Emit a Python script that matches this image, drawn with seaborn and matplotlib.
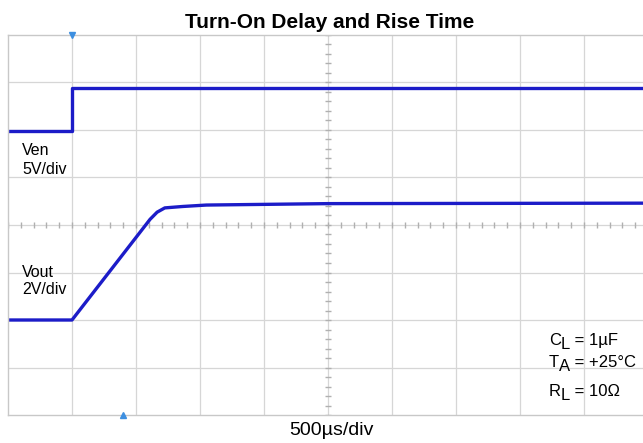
import numpy as np
import seaborn as sns
import matplotlib
matplotlib.use("Agg")
import matplotlib.pyplot as plt

# Scope capture values, in divisions (x: 500us/div, y: screen divisions from bottom)
ven_t = [0.0, 1.0, 1.0, 10.0]
ven_v = [5.98, 5.98, 6.88, 6.88]

vout_t = [0.0, 1.0, 2.22, 2.33, 2.45, 2.73, 3.1, 5.0, 10.0]
vout_v = [2.0, 2.0, 4.12, 4.27, 4.36, 4.39, 4.42, 4.45, 4.46]

trig_t = [1.0, 1.8]   # trigger / cursor markers (top, bottom)

title = "Turn-On Delay and Rise Time"
xlabel = "500µs/div"
ven_label = ["Ven", "5V/div"]
vout_label = ["Vout", "2V/div"]
conditions = [("C", "L", " = 1µF"), ("T", "A", " = +25°C"), ("R", "L", " = 10Ω")]

sns.set_style("white")
plt.rcParams["font.family"] = ["Liberation Sans", "DejaVu Sans"]
plt.rcParams["text.color"] = "black"

fig = plt.figure(figsize=(6.43, 4.43), dpi=100)
ax = fig.add_axes([8 / 643, 28 / 443, 640 / 643, 380 / 443])
ax.set_xlim(0, 10)
ax.set_ylim(0, 8)

#grid
grid_col = "#d6d6d6"
for gx in range(1, 10):
    ax.axvline(gx, color=grid_col, lw=0.9, zorder=0)
for gy in range(1, 8):
    ax.axhline(gy, color=grid_col, lw=0.9, zorder=0)

#small ticks on the centre lines
mx = np.arange(0, 10.01, 0.2)
my = np.arange(0, 8.01, 0.2)
ax.plot(mx, np.full_like(mx, 4.0), ls="none", marker="|", ms=4, color="#b0b0b0", zorder=1)
ax.plot(np.full_like(my, 5.0), my, ls="none", marker="_", ms=4, color="#b0b0b0", zorder=1)

for s in ["left", "top", "bottom"]:
    ax.spines[s].set_color("#c8c8c8")
    ax.spines[s].set_linewidth(1.0)
ax.spines["right"].set_visible(False)
ax.set_xticks([])
ax.set_yticks([])

#traces
trace_col = "#1c1cc8"
sns.lineplot(x=ven_t, y=ven_v, sort=False, estimator=None, color=trace_col, lw=2.4, ax=ax)
sns.lineplot(x=vout_t, y=vout_v, sort=False, estimator=None, color=trace_col, lw=2.4, ax=ax)

#trigger markers
ax.plot(trig_t[0], 8.0, marker="v", ms=4, color="#3d8fe0", clip_on=False, zorder=5)
ax.plot(trig_t[1], 0.0, marker="^", ms=4, color="#3d8fe0", clip_on=False, zorder=5)

#channel labels
ax.text(0.22, 5.47, ven_label[0], fontsize=11.5, va="baseline")
ax.text(0.22, 5.07, ven_label[1], fontsize=11.5, va="baseline")
ax.text(0.22, 2.91, vout_label[0], fontsize=11.5, va="baseline")
ax.text(0.22, 2.55, vout_label[1], fontsize=11.5, va="baseline")

#conditions with full-size lowered subscripts
fig.canvas.draw()
renderer = fig.canvas.get_renderer()
cond_y = [1.47, 1.01, 0.40]
for (main, sub, rest), cy in zip(conditions, cond_y):
    x0, y0 = ax.transData.transform((8.45, cy))
    t1 = fig.text(x0 / 643, y0 / 443, main, fontsize=12, va="baseline")
    w1 = t1.get_window_extent(renderer).width
    t2 = fig.text((x0 + w1) / 643, (y0 - 4) / 443, sub, fontsize=12, va="baseline")
    w2 = t2.get_window_extent(renderer).width
    fig.text((x0 + w1 + w2) / 643, y0 / 443, rest, fontsize=12, va="baseline")

fig.text(330 / 643, 1 - 28 / 443, title, fontsize=15, fontweight="bold", ha="center", va="baseline")
fig.text(331 / 643, 8 / 443, xlabel, fontsize=14, ha="center", va="baseline")

fig.savefig("out.png", dpi=100)
